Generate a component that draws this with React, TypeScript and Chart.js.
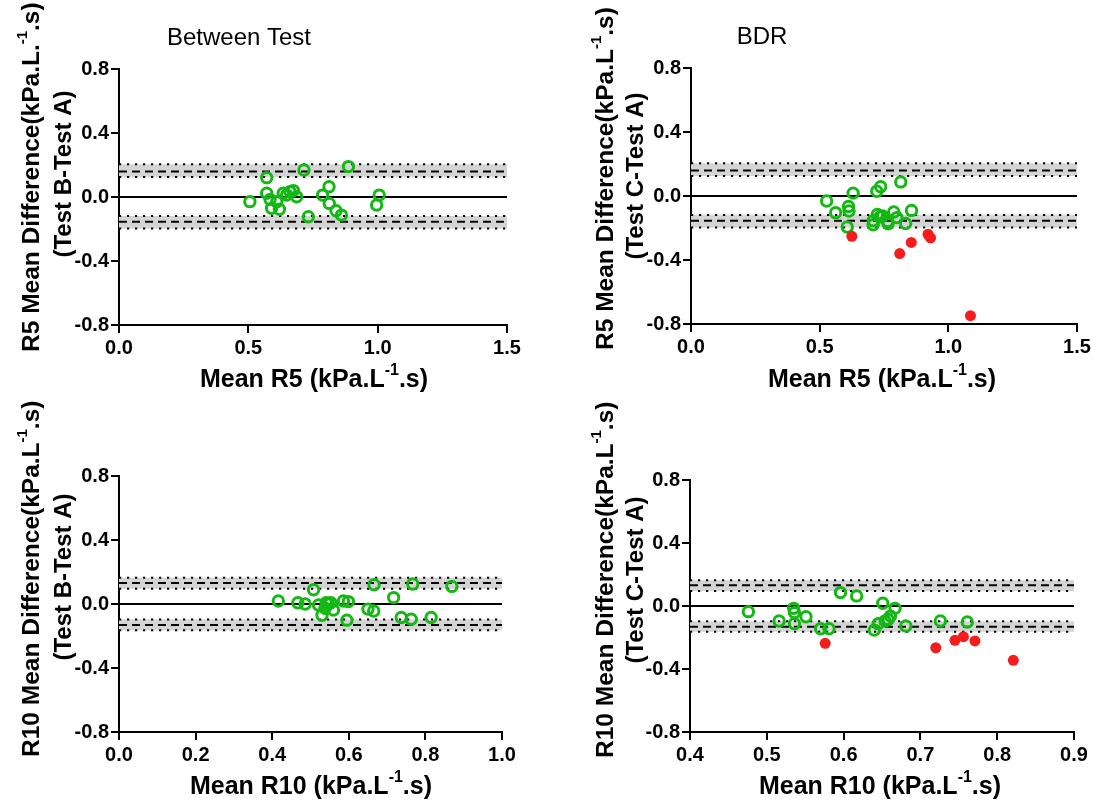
import React, { useEffect, useRef } from 'react';
import { Chart, registerables } from 'chart.js';

Chart.register(...registerables);

const W = 1097;
const H = 800;
const FONT = "'Liberation Sans', Arial, Helvetica, sans-serif";
const GREEN = '#14b814';
const RED = '#f41c1c';
const BAND = '#d4d4d4';

// ---------- data ----------
// Panel 1: Between Test, R5
const p1GreenX = [0.506, 0.571, 0.571, 0.584, 0.590, 0.610, 0.620, 0.635, 0.648, 0.661, 0.674, 0.687, 0.715, 0.732, 0.787, 0.812, 0.813, 0.839, 0.860, 0.887, 0.996, 1.006];
const p1GreenY = [-0.029, 0.121, 0.023, -0.015, -0.071, -0.029, -0.077, 0.023, 0.012, 0.033, 0.040, 0.002, 0.169, -0.123, 0.012, 0.064, -0.040, -0.086, -0.113, 0.190, -0.050, 0.012];

// Panel 2: BDR, R5
const p2GreenX = [0.527, 0.562, 0.612, 0.614, 0.607, 0.630, 0.708, 0.708, 0.722, 0.737, 0.724, 0.735, 0.764, 0.766, 0.788, 0.800, 0.815, 0.834, 0.857, 0.745];
const p2GreenY = [-0.031, -0.104, -0.066, -0.094, -0.194, 0.018, -0.155, -0.180, 0.030, 0.058, -0.115, -0.130, -0.160, -0.173, -0.100, -0.135, 0.088, -0.172, -0.090, -0.125];
const p2RedX = [0.625, 0.811, 0.856, 0.921, 0.931, 1.086];
const p2RedY = [-0.252, -0.360, -0.290, -0.239, -0.262, -0.748];

// Panel 3: Between Test, R10
const p3GreenX = [0.416, 0.467, 0.486, 0.508, 0.521, 0.530, 0.538, 0.541, 0.547, 0.553, 0.560, 0.586, 0.599, 0.595, 0.650, 0.665, 0.666, 0.717, 0.737, 0.763, 0.767, 0.815, 0.869];
const p3GreenY = [0.019, 0.008, 0.000, 0.089, -0.006, -0.070, -0.027, 0.008, 0.000, 0.008, -0.038, 0.019, 0.015, -0.101, -0.032, -0.044, 0.120, 0.040, -0.084, -0.095, 0.125, -0.084, 0.110];

// Panel 4: BDR, R10
const p4GreenX = [0.476, 0.516, 0.535, 0.536, 0.536, 0.551, 0.570, 0.581, 0.596, 0.617, 0.640, 0.645, 0.651, 0.654, 0.658, 0.661, 0.667, 0.681, 0.726, 0.761];
const p4GreenY = [-0.036, -0.095, -0.015, -0.042, -0.112, -0.068, -0.144, -0.144, 0.085, 0.064, -0.153, -0.112, 0.017, -0.095, -0.085, -0.064, -0.015, -0.127, -0.095, -0.102];
const p4RedX = [0.576, 0.720, 0.745, 0.756, 0.771, 0.821];
const p4RedY = [-0.237, -0.265, -0.218, -0.195, -0.222, -0.345];

// Limits of agreement [lower CI, LoA, upper CI]
const meanDiff = 0;
const r5Upper = [0.125, 0.16, 0.205];
const r5Lower = [-0.197, -0.155, -0.118];
const r10Upper = [0.096, 0.131, 0.164];
const r10Lower = [-0.164, -0.131, -0.097];

// Axis ranges [min, max, step]
const yRange = [-0.8, 0.8, 0.4];
const xRangeR5 = [0, 1.5, 0.5];
const xRangeR10Between = [0, 1.0, 0.2];
const xRangeR10BDR = [0.4, 0.9, 0.1];

// ---------- layout ----------
type Seg = { t: string; sup?: boolean };
type Panel = {
  area: { left: number; top: number; right: number; bottom: number };
  xr: number[];
  gx: number[];
  gy: number[];
  rx?: number[];
  ry?: number[];
  upper: number[];
  lower: number[];
  title?: { text: string; x: number; y: number };
  xTitle: { segs: Seg[]; x: number; y: number };
  y1: { segs: Seg[]; x: number; y: number };
  y2: { text: string; x: number; y: number };
};

const sup = (a: string, b: string): Seg[] => [{ t: a }, { t: '-1', sup: true }, { t: b }];

const panels: Panel[] = [
  {
    area: { left: 119, top: 69, right: 507, bottom: 325 },
    xr: xRangeR5, gx: p1GreenX, gy: p1GreenY, upper: r5Upper, lower: r5Lower,
    title: { text: 'Between Test', x: 239, y: 36 },
    xTitle: { segs: sup('Mean R5 (kPa.L', '.s)'), x: 314, y: 378 },
    y1: { segs: sup('R5 Mean Difference(kPa.L.', '.s)'), x: 30, y: 352 },
    y2: { text: '(Test B-Test A)', x: 62, y: 174 },
  },
  {
    area: { left: 691, top: 68, right: 1077, bottom: 324 },
    xr: xRangeR5, gx: p2GreenX, gy: p2GreenY, rx: p2RedX, ry: p2RedY, upper: r5Upper, lower: r5Lower,
    title: { text: 'BDR', x: 762, y: 35 },
    xTitle: { segs: sup('Mean R5 (kPa.L', '.s)'), x: 882, y: 378 },
    y1: { segs: sup('R5 Mean Difference(kPa.L', '.s)'), x: 604, y: 350 },
    y2: { text: '(Test C-Test A)', x: 634, y: 176 },
  },
  {
    area: { left: 119, top: 476, right: 502, bottom: 732 },
    xr: xRangeR10Between, gx: p3GreenX, gy: p3GreenY, upper: r10Upper, lower: r10Lower,
    xTitle: { segs: sup('Mean R10 (kPa.L', '.s)'), x: 311, y: 785 },
    y1: { segs: sup('R10 Mean Difference(kPa.L', '.s)'), x: 30, y: 757 },
    y2: { text: '(Test B-Test A)', x: 62, y: 577 },
  },
  {
    area: { left: 690, top: 480, right: 1074, bottom: 732 },
    xr: xRangeR10BDR, gx: p4GreenX, gy: p4GreenY, rx: p4RedX, ry: p4RedY, upper: r10Upper, lower: r10Lower,
    xTitle: { segs: sup('Mean R10 (kPa.L', '.s)'), x: 880, y: 785 },
    y1: { segs: sup('R10 Mean Difference(kPa.L', '.s)'), x: 604, y: 758 },
    y2: { text: '(Test C-Test A)', x: 634, y: 580 },
  },
];

const Y_AXIS_W = 45;
const X_AXIS_H = 40;

function drawSegs(ctx: CanvasRenderingContext2D, segs: Seg[], cx: number, cy: number, size: number, rotated: boolean, anchor: 'center' | 'start') {
  const main = `bold ${size}px ${FONT}`;
  const supF = `bold ${Math.round(size * 0.62)}px ${FONT}`;
  const widths = segs.map((s) => {
    ctx.font = s.sup ? supF : main;
    return ctx.measureText(s.t).width;
  });
  const total = widths.reduce((a, b) => a + b, 0);
  ctx.save();
  ctx.translate(cx, cy);
  if (rotated) ctx.rotate(-Math.PI / 2);
  ctx.fillStyle = '#000';
  ctx.textAlign = 'left';
  ctx.textBaseline = 'alphabetic';
  let x = anchor === 'center' ? -total / 2 : 0;
  const base = size * 0.36;
  segs.forEach((s, i) => {
    ctx.font = s.sup ? supF : main;
    ctx.fillText(s.t, x, s.sup ? base - size * 0.47 : base);
    x += widths[i];
  });
  ctx.restore();
}

function makeTextPlugin(p: Panel) {
  return {
    id: 'panelText',
    afterDraw(chart: any) {
      const ctx: CanvasRenderingContext2D = chart.ctx;
      if (p.title) {
        ctx.save();
        ctx.font = `24px ${FONT}`;
        ctx.fillStyle = '#000';
        ctx.textAlign = 'center';
        ctx.textBaseline = 'alphabetic';
        ctx.fillText(p.title.text, p.title.x, p.title.y + 24 * 0.36);
        ctx.restore();
      }
      drawSegs(ctx, p.xTitle.segs, p.xTitle.x, p.xTitle.y, 25, false, 'center');
      drawSegs(ctx, p.y1.segs, p.y1.x, p.y1.y, 24.5, true, 'start');
      drawSegs(ctx, [{ t: p.y2.text }], p.y2.x, p.y2.y, 24, true, 'center');
    },
  };
}

function buildConfig(p: Panel): any {
  const [xMin, xMax, xStep] = p.xr;
  const [yMin, yMax, yStep] = yRange;
  const pts = (xs: number[], ys: number[]) => xs.map((x, i) => ({ x, y: ys[i] }));
  const hline = (v: number) => [{ x: xMin, y: v }, { x: xMax, y: v }];
  const datasets: any[] = [];
  if (p.rx && p.ry) {
    datasets.push({
      type: 'scatter', data: pts(p.rx, p.ry), pointRadius: 5.5, pointHoverRadius: 5.5,
      pointBackgroundColor: RED, pointBorderColor: RED, pointBorderWidth: 0, showLine: false,
    });
  }
  datasets.push({
    type: 'scatter', data: pts(p.gx, p.gy), pointRadius: 5.2, pointHoverRadius: 5.2,
    pointBackgroundColor: 'rgba(0,0,0,0)', pointBorderColor: GREEN, pointBorderWidth: 3, showLine: false,
  });
  const lineBase = { type: 'line', pointRadius: 0, pointHoverRadius: 0, borderColor: '#000', borderWidth: 2, tension: 0, fill: false };
  datasets.push({ ...lineBase, data: hline(meanDiff) });
  const addBand = (b: number[]) => {
    datasets.push({ ...lineBase, data: hline(b[1]), borderDash: [8, 5] });
    const loIdx = datasets.length;
    datasets.push({ ...lineBase, data: hline(b[0]), borderDash: [2.2, 5.8] });
    datasets.push({ ...lineBase, data: hline(b[2]), borderDash: [2.2, 5.8], fill: loIdx, backgroundColor: BAND });
  };
  addBand(p.upper);
  addBand(p.lower);

  const tickFont = { family: FONT, size: 20, weight: 'bold' as const };
  const fmt = (v: any) => {
    const n = Number(v);
    return (Math.abs(n) < 1e-9 ? 0 : n).toFixed(1);
  };
  return {
    type: 'scatter',
    data: { datasets },
    options: {
      responsive: false,
      animation: false,
      events: [],
      layout: {
        padding: {
          left: p.area.left - Y_AXIS_W,
          top: p.area.top,
          right: W - p.area.right,
          bottom: H - p.area.bottom - X_AXIS_H,
        },
      },
      plugins: { legend: { display: false }, tooltip: { enabled: false }, title: { display: false } },
      scales: {
        x: {
          type: 'linear', min: xMin, max: xMax,
          afterFit: (s: any) => { s.height = X_AXIS_H; },
          border: { display: true, color: '#000', width: 2 },
          grid: { display: true, drawOnChartArea: false, drawTicks: true, tickLength: 8, color: '#000', lineWidth: 2 },
          ticks: { stepSize: xStep, font: tickFont, color: '#000', padding: 3, maxRotation: 0, autoSkip: false, callback: fmt },
        },
        y: {
          type: 'linear', min: yMin, max: yMax,
          afterFit: (s: any) => { s.width = Y_AXIS_W; },
          border: { display: true, color: '#000', width: 2 },
          grid: { display: true, drawOnChartArea: false, drawTicks: true, tickLength: 8, color: '#000', lineWidth: 2 },
          ticks: { stepSize: yStep, font: tickFont, color: '#000', padding: 2, autoSkip: false, callback: fmt },
        },
      },
    },
    plugins: [makeTextPlugin(p)],
  };
}

function PanelCanvas({ p }: { p: Panel }) {
  const ref = useRef<HTMLCanvasElement | null>(null);
  useEffect(() => {
    if (!ref.current) return;
    const chart = new Chart(ref.current, buildConfig(p));
    return () => chart.destroy();
  }, [p]);
  return <canvas ref={ref} width={W} height={H} style={{ position: 'absolute', left: 0, top: 0, width: W, height: H }} />;
}

export default function App() {
  return (
    <div style={{ position: 'absolute', left: 0, top: 0, width: W, height: H, background: '#fff', overflow: 'hidden' }}>
      {panels.map((p, i) => (
        <PanelCanvas key={i} p={p} />
      ))}
    </div>
  );
}
